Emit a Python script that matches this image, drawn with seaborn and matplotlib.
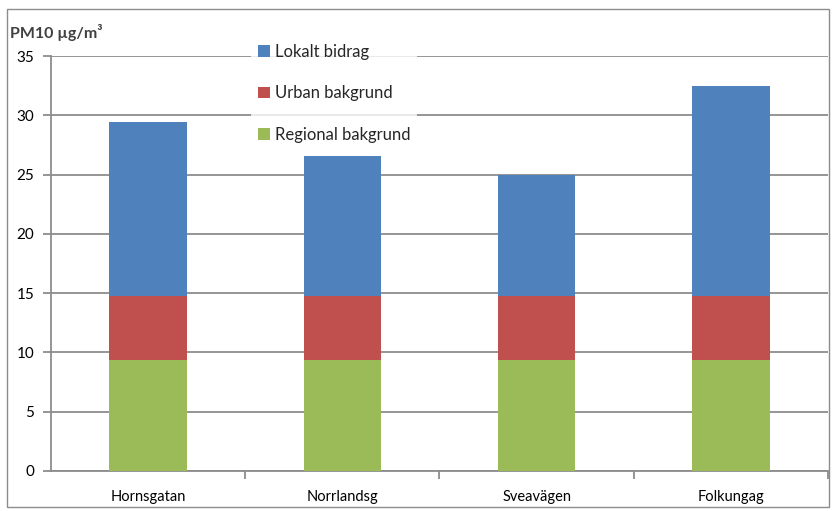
import matplotlib
matplotlib.use("Agg")
import matplotlib.pyplot as plt
from matplotlib.patches import Patch, Rectangle
import seaborn as sns
import pandas as pd

# PM10 contributions per street (µg/m³)
streets = ["Hornsgatan", "Norrlandsg", "Sveavägen", "Folkungag"]
regional = [9.4, 9.4, 9.4, 9.4]
urban = [5.4, 5.4, 5.4, 5.4]
local = [14.6, 11.8, 10.2, 17.7]

labels = ["Lokalt bidrag", "Urban bakgrund", "Regional bakgrund"]
colors = ["#4F81BD", "#C0504D", "#9BBB59"]

sns.set_theme(style="white")
plt.rcParams["font.family"] = ["Lato", "DejaVu Sans"]

df = pd.DataFrame({"street": streets, "regional": regional,
                   "urban": urban, "local": local})
df["urban_top"] = df["regional"] + df["urban"]
df["total"] = df["urban_top"] + df["local"]

fig = plt.figure(figsize=(8.33, 5.11), dpi=100)
ax = fig.add_axes([0.0612, 0.0783, 0.9328, 0.8121])

# stacked bars drawn as overlapping cumulative heights
for col, c in zip(["total", "urban_top", "regional"], colors):
    sns.barplot(data=df, x="street", y=col, color=c, width=0.4,
                saturation=1, ax=ax, zorder=3, linewidth=0)

ax.set_ylim(0, 35)
ax.set_yticks(range(0, 36, 5))
ax.set_xlim(-0.5, 3.5)
ax.set_xlabel("")
ax.set_ylabel("")

grid_c = "#8C8C8C"
ax.yaxis.grid(True, color=grid_c, linewidth=1.3, zorder=0)
ax.set_axisbelow(True)
for s in ["top", "right"]:
    ax.spines[s].set_visible(False)
for s in ["left", "bottom"]:
    ax.spines[s].set_color(grid_c)
    ax.spines[s].set_linewidth(1.3)

# category boundary ticks on the x axis
ax.set_xticks([0.5, 1.5, 2.5, 3.5], minor=True)
ax.tick_params(axis="x", which="minor", length=6, width=1.3, color=grid_c,
               direction="out", bottom=True)
ax.tick_params(axis="x", which="major", length=0, pad=14, labelsize=10.5,
               labelcolor="#000000")
ax.tick_params(axis="y", length=6, width=1.3, color=grid_c, direction="out",
               left=True, pad=6, labelsize=11, labelcolor="#000000")

handles = [Patch(facecolor=c, edgecolor="none") for c in colors]
leg = ax.legend(handles, labels, loc="upper left",
                bbox_to_anchor=(0.258, 1.045), frameon=True, fontsize=12,
                handlelength=0.7, handleheight=0.7, handletextpad=0.3,
                labelspacing=1.52, borderpad=0.4, borderaxespad=0)
leg.get_frame().set_facecolor("white")
leg.get_frame().set_edgecolor("white")
leg.get_frame().set_linewidth(0)
leg.set_zorder(5)

fig.text(0.012, 0.937, "PM10 µg/m³", fontsize=11.5, fontweight="bold",
         color="#404040", ha="left", va="center")

fig.patches.append(Rectangle((0.008, 0.008), 0.987, 0.975,
                             transform=fig.transFigure, fill=False,
                             edgecolor="#8C8C8C", linewidth=1.0))

fig.savefig("out.png", dpi=100, facecolor="white")
